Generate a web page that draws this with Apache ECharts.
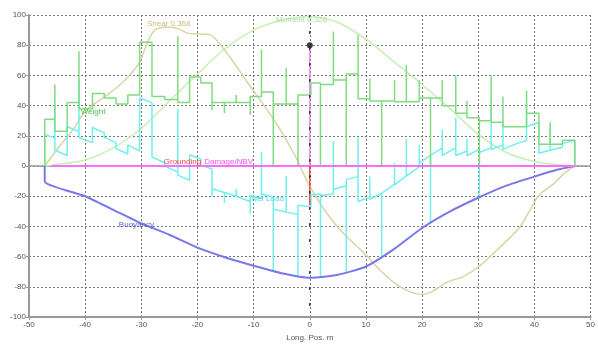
<!DOCTYPE html>
<html>
<head>
<meta charset="utf-8">
<script src="https://cdn.jsdelivr.net/npm/echarts@6/dist/echarts.min.js"></script>
<style>
  html, body { margin: 0; padding: 0; background: #fff; }
  #chart { width: 598px; height: 347px; }
</style>
</head>
<body>
<div id="chart"></div>
<script>
// tick labels
const xTicks = [-50, -40, -30, -20, -10, 0, 10, 20, 30, 40, 50];
const yTicks = [-100, -80, -60, -40, -20, 0, 20, 40, 60, 80, 100];

// weight (step with point loads), [pos, value]
const weight = [[-47.2,0],[-47.2,31],[-45.4,31],[-45.4,54],[-45.4,23],[-43.2,23],[-43.2,42],[-41.1,42],[-41.1,76],[-41.1,38],
  [-38.7,38],[-38.7,48],[-36.6,48],[-36.6,45],[-34.5,45],[-34.5,41],[-32.4,41],[-32.4,47],[-30.3,47],[-30.3,82],[-28.1,82],
  [-28.1,46],[-25.8,46],[-25.8,44],[-23.5,44],[-23.5,86],[-23.5,42],[-21.4,42],[-21.4,59],[-19.4,59],[-19.4,55],[-17.4,55],
  [-17.4,37],[-17.4,42],[-15.2,42],[-15.2,35],[-15.2,42],[-13.1,42],[-13.1,47],[-13.1,42],[-10.6,42],[-10.6,34],[-10.6,46],
  [-8.6,46],[-8.6,77],[-8.6,49],[-6.5,49],[-6.5,0],[-6.5,41],[-4.2,41],[-4.2,65],[-4.2,41],[-2.1,41],[-2.1,0],[-2.1,47],
  [0.2,47],[0.2,55],[1.9,55],[1.9,0],[1.9,54],[4.2,54],[4.2,89],[4.2,57],[6.5,57],[6.5,0],[6.5,61],[8.6,61],[8.6,87],
  [8.6,44.5],[10.7,44.5],[10.7,58],[10.7,43],[12.8,43],[12.8,0],[12.8,43],[15.1,43],[15.1,57],[15.1,42.5],[17.2,42.5],
  [17.2,67],[17.2,42.5],[19.5,42.5],[19.5,57],[19.5,45],[21.5,45],[21.5,0],[21.5,45],[23.6,45],[23.6,57],[23.6,40],[26,40],
  [26,60],[26,35],[28,35],[28,43],[28,32],[30.2,32],[30.2,0],[30.2,30],[32.3,30],[32.3,60],[32.3,29],[34.4,29],[34.4,46],
  [34.4,26],[36.6,26],[38.6,26],[38.6,50],[38.6,35],[40.8,35],[40.8,14.5],[42.8,14.5],[42.8,29],[42.8,14.5],[45,14.5],
  [45,17],[47.2,17],[47.2,0]];

// net load
const netLoad = [[-47.2,0],[-47.2,21],[-45.4,18.5],[-45.4,41.5],[-45.4,10.5],[-43.2,7],[-43.2,26],[-41.1,23],[-41.1,57],
  [-41.1,19],[-38.7,15.5],[-38.7,25.5],[-36.6,22],[-36.6,19],[-34.5,15.5],[-34.5,11.5],[-32.4,8],[-32.4,14],[-30.3,10],
  [-30.3,45],[-28.1,42],[-28.1,6],[-25.8,2],[-25.8,0],[-23.5,-4],[-23.5,38],[-23.5,-6],[-21.4,-9.5],[-21.4,7.5],[-19.4,4.5],
  [-19.4,0.5],[-17.4,-2],[-17.4,-20],[-17.4,-15],[-15.2,-17.5],[-15.2,-24.5],[-15.2,-17.5],[-13.1,-20],[-13.1,-15],
  [-13.1,-20],[-10.6,-23.5],[-10.6,-31.5],[-10.6,-19.5],[-8.6,-21.5],[-8.6,9.5],[-8.6,-18.5],[-6.5,-20.5],[-6.5,-69.5],
  [-6.5,-28.5],[-4.2,-30.5],[-4.2,-6.5],[-4.2,-30.5],[-2.1,-32],[-2.1,-73],[-2.1,-26],[0.2,-27],[0.2,-19],[1.9,-18.5],
  [1.9,-73.5],[1.9,-19.5],[4.2,-18.5],[4.2,16.5],[4.2,-15.5],[6.5,-13],[6.5,-70],[6.5,-9],[8.6,-7],[8.6,19],[8.6,-23.5],
  [10.7,-20.5],[10.7,-7],[10.7,-22],[12.8,-18],[12.8,-61],[12.8,-18],[15.1,-12],[15.1,2],[15.1,-12.5],[17.2,-6.5],[17.2,18],
  [17.2,-6.5],[19.5,-0.5],[19.5,14],[19.5,2],[21.5,7],[21.5,-38],[21.5,7],[23.6,12],[23.6,24],[23.6,7],[26,12],[26,32],
  [26,7],[28,10],[28,18],[28,7],[30.2,11],[30.2,-21],[30.2,9],[32.3,12],[32.3,42],[32.3,11],[34.4,14],[34.4,31],[34.4,11],
  [36.6,14.5],[38.6,17],[38.6,41],[38.6,26],[40.8,29],[40.8,8.5],[42.8,10.5],[42.8,25],[42.8,10.5],[45,12.5],[45,15],
  [47.2,17],[47.2,0]];

const buoyancy = [[-47.2,0],[-47.2,-10],[-40,-20],[-35,-29],[-30,-38],[-25,-45.5],[-20,-54],[-15,-60.5],[-10,-66],
  [-5,-71],[0,-74],[5,-72],[10,-66.5],[15,-55],[20,-41],[25,-30],[30,-21],[35,-13],[40,-7],[44,-2.5],[47.2,0]];

const shear = [[-47.2,0],[-44.7,12.5],[-42.4,23],[-39.8,37],[-36.5,46],[-34.2,52.5],[-31.9,61],[-30.2,69.5],[-29,81],
  [-27.6,90],[-25.3,92],[-23.2,90.5],[-21.8,88],[-20,87.5],[-17.9,87],[-16.5,83],[-14.2,72],[-11.2,56],[-8.3,41],
  [-5.4,25],[-2.5,6],[-0.2,-12],[2.8,-30],[5.1,-41],[7.5,-50],[9.8,-58],[11,-63],[12.8,-70],[15.1,-77.5],[17.4,-82.5],
  [19.8,-85],[21.6,-83.5],[24.4,-77],[27.4,-73],[30.3,-66],[33.8,-54],[37.4,-40.5],[39.3,-28.5],[40.9,-19],[43.2,-12.5],
  [45.4,-4.5],[47.2,0]];

const moment = [[-47.2,0],[-45,1],[-40,4],[-35,12],[-30,25],[-25,43],[-20,61],[-15,78],[-10,90],[-5,96.5],[0,99],
  [5,95],[10,84],[15,69],[20,54],[25,38],[30,21],[35,9],[40,3],[44,1],[47.2,0]];

const zeroLine = [[-50,0],[50,0]];
const damage = [[-46,0],[47.2,0]];
const damageMark = [[0,0],[0,80]];
const groundingMark = [[0,0],[0,-26]];
const midship = [[0,100],[0,-100]];
const draftPoint = [[0,80]];

const FONT = 'Liberation Sans';

const chart = echarts.init(document.getElementById('chart'));

function lbl(text, coord, color, align) {
  return {
    symbol: 'circle', symbolSize: 0, silent: true,
    data: [{ coord: coord, value: text }],
    label: { show: true, formatter: text, color: color, fontSize: 8, fontFamily: FONT,
      position: 'inside', align: align || 'left', verticalAlign: 'middle' }
  };
}

function line(name, data, color, extra) {
  return Object.assign({
    name: name, type: 'line', data: data, symbol: 'none', animation: false,
    lineStyle: { color: color, width: 1.5 }, z: 3
  }, extra || {});
}

chart.setOption({
  animation: false,
  backgroundColor: '#fff',
  grid: { left: 29, right: -1, top: 15, bottom: 16 },
  xAxis: {
    type: 'value', min: -50, max: 50, interval: 10,
    name: 'Long. Pos. m', nameLocation: 'middle', nameGap: 13,
    nameTextStyle: { fontSize: 8, color: '#555', fontFamily: FONT },
    axisLine: { onZero: false, lineStyle: { color: '#999', width: 2 } },
    axisTick: { show: true, length: 3, lineStyle: { color: '#999' } },
    axisLabel: { fontSize: 8, color: '#555', margin: 4, fontFamily: FONT,
      formatter: v => xTicks.includes(v) ? String(v) : '' },
    splitLine: { show: true, lineStyle: { color: '#777', type: [2, 2], width: 1 } }
  },
  yAxis: {
    type: 'value', min: -100, max: 100, interval: 20,
    axisLine: { show: true, onZero: false, lineStyle: { color: '#999', width: 2 } },
    axisTick: { show: true, length: 3, lineStyle: { color: '#999' } },
    axisLabel: { fontSize: 8, color: '#555', margin: 3, fontFamily: FONT,
      formatter: v => yTicks.includes(v) ? String(v) : '' },
    splitLine: { show: true, lineStyle: { color: '#777', type: [2, 2], width: 1 } }
  },
  series: [
    line('zero', zeroLine, '#999', { lineStyle: { color: '#999', width: 1.5 }, z: 2 }),
    line('Moment', moment, '#c6f0b4', { smooth: 0.3, markPoint: lbl('Moment 0.326', [-6, 97], '#a8dc98') }),
    line('Shear', shear, '#d8d4a4', { smooth: 0.3, markPoint: lbl('Shear 0.368', [-29, 94], '#c8c078') }),
    line('Net Load', netLoad, '#6ff0f0', { markPoint: lbl('Net Load', [-10.4, -21.5], '#50d8e0') }),
    line('Weight', weight, '#80dc80', { markPoint: lbl('Weight', [-40.8, 36], '#50c050') }),
    line('Buoyancy', buoyancy, '#7878e8', { smooth: 0.2, lineStyle: { color: '#7878e8', width: 2 },
      markPoint: lbl('Buoyancy', [-34, -39], '#6060e0') }),
    line('Damage/NBV', damage, '#ff6cff', { lineStyle: { color: '#ff6cff', width: 2 },
      markPoint: lbl('Damage/NBV', [-18.8, 3], '#f050f0') }),
    line('Grounding', groundingMark, '#e85050', { lineStyle: { color: '#e85050', width: 1.5 },
      markPoint: lbl('Grounding', [-26, 3], '#f04848') }),
    line('damageMark', damageMark, '#e090e8', { lineStyle: { color: '#e090e8', width: 1.5 } }),
    line('midship', midship, '#222', { lineStyle: { color: '#222', width: 1.2, type: [3, 13] }, z: 4 }),
    { name: 'draft', type: 'scatter', data: draftPoint, symbol: 'circle', symbolSize: 6,
      itemStyle: { color: '#111' }, z: 5, animation: false }
  ]
});
</script>
</body>
</html>
